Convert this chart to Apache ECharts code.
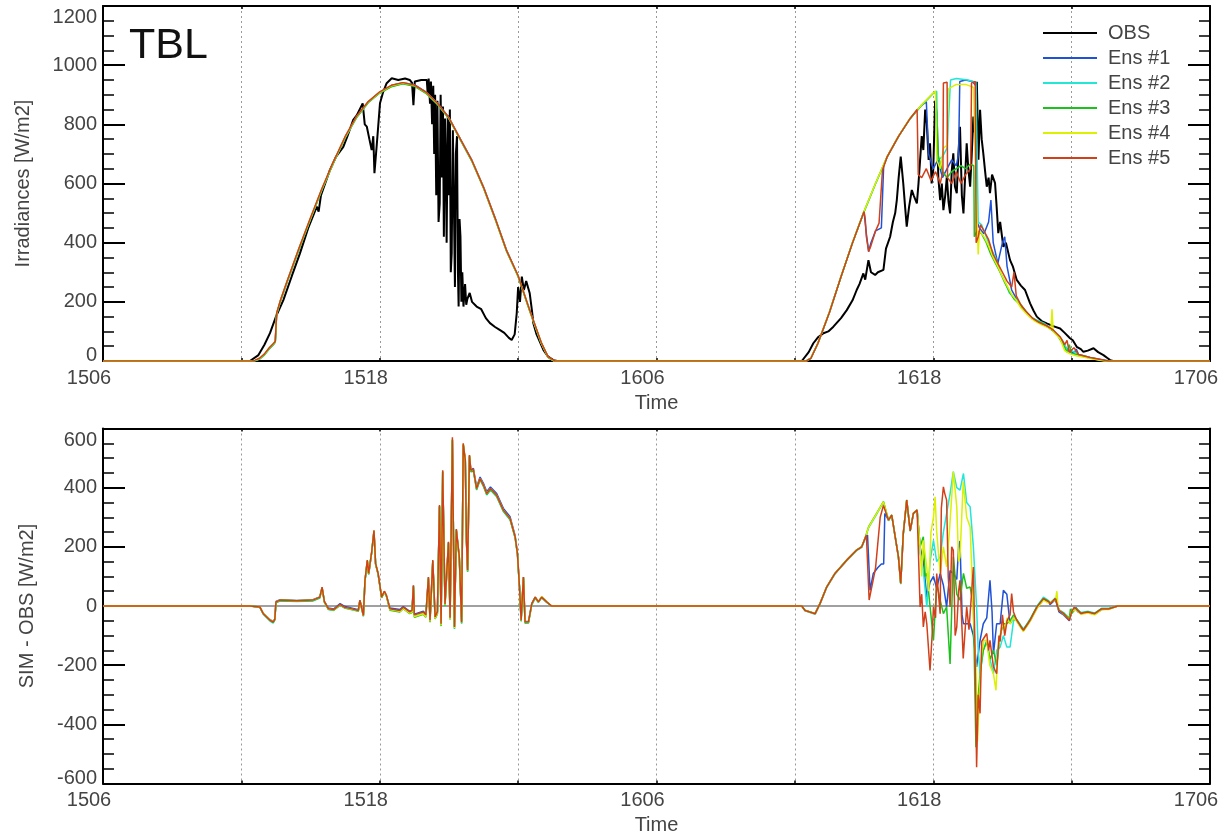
<!DOCTYPE html>
<html>
<head>
<meta charset="utf-8">
<script src="https://cdn.jsdelivr.net/npm/echarts@6/dist/echarts.min.js"></script>
<style>html,body{margin:0;padding:0;background:#fff}#c{width:1228px;height:834px}</style>
</head>
<body>
<div id="c"></div>
<script>
// x = hours since day 15, 06 h
const xTickLabels = {0:'1506', 12:'1518', 24:'1606', 36:'1618', 48:'1706'};
const seriesNames = ['OBS','Ens #1','Ens #2','Ens #3','Ens #4','Ens #5'];
const seriesColors = ['#000000','#1f52d6','#22e6d6','#1cc21c','#dcf000','#d2401a'];

const obsTop = [[0,0],[6.37,0],[6.74,20],[7.0,55],[7.24,94],[7.5,150],[7.82,206],[8.2,290],[8.54,364],[8.9,450],[9.27,522],[9.35,505],[9.45,560],[9.84,646],[10.1,690],[10.42,724],[10.6,760],[10.85,815],[11.0,830],[11.26,871],[11.35,800],[11.44,792],[11.55,750],[11.65,713],[11.72,760],[11.77,635],[11.87,730],[12.01,871],[12.15,910],[12.3,939],[12.52,956],[12.8,950],[13.1,955],[13.3,950],[13.4,940],[13.46,865],[13.52,945],[13.8,950],[14.04,950],[14.08,900],[14.12,955],[14.18,870],[14.22,945],[14.27,800],[14.32,930],[14.36,700],[14.4,900],[14.45,560],[14.5,880],[14.55,470],[14.6,533],[14.64,900],[14.69,620],[14.74,860],[14.78,420],[14.83,820],[14.87,650],[14.9,400],[14.95,830],[15.0,560],[15.04,850],[15.08,300],[15.12,364],[15.17,780],[15.22,500],[15.26,250],[15.3,700],[15.35,760],[15.39,300],[15.42,184],[15.46,480],[15.5,420],[15.54,200],[15.58,300],[15.63,184],[15.7,260],[15.75,190],[15.8,210],[15.9,230],[16.0,200],[16.2,184],[16.4,175],[16.6,145],[16.78,128],[17.0,115],[17.2,105],[17.4,95],[17.6,78],[17.72,71],[17.85,90],[17.94,162],[18.0,250],[18.08,200],[18.16,285],[18.25,240],[18.35,270],[18.5,230],[18.6,170],[18.66,128],[18.8,90],[19.1,37],[19.3,15],[19.53,3],[19.7,0],
[30.3,0],[30.37,3],[30.6,30],[30.8,60],[31.0,80],[31.24,94],[31.45,100],[31.67,116],[32.0,145],[32.25,172],[32.5,205],[32.68,240],[32.8,260],[32.97,296],[33.05,275],[33.19,341],[33.3,300],[33.48,291],[33.6,300],[33.84,308],[33.95,380],[34.13,420],[34.25,470],[34.35,500],[34.42,544],[34.5,620],[34.59,691],[34.7,600],[34.78,520],[34.85,454],[34.95,520],[35.07,578],[35.15,560],[35.29,533],[35.36,600],[35.43,680],[35.5,760],[35.57,713],[35.65,850],[35.72,803],[35.8,680],[35.86,736],[35.93,600],[36.0,646],[36.08,880],[36.15,837],[36.22,620],[36.3,544],[36.37,600],[36.44,510],[36.52,560],[36.59,623],[36.66,540],[36.73,499],[36.8,640],[36.87,702],[36.94,590],[37.02,567],[37.09,700],[37.16,792],[37.24,560],[37.31,499],[37.38,620],[37.45,736],[37.52,650],[37.6,589],[37.67,700],[37.74,826],[37.82,760],[37.89,944],[37.96,680],[38.03,849],[38.1,750],[38.17,702],[38.25,640],[38.32,589],[38.4,620],[38.46,567],[38.55,630],[38.68,601],[38.75,520],[38.82,432],[38.9,470],[39.04,386],[39.15,400],[39.33,341],[39.45,320],[39.62,274],[39.8,255],[39.98,240],[40.2,195],[40.35,170],[40.49,150],[40.7,135],[40.92,127],[41.2,118],[41.5,110],[41.7,95],[41.93,77],[42.05,70],[42.22,48],[42.4,40],[42.51,31],[42.7,35],[42.95,43],[43.15,30],[43.38,20],[43.55,10],[43.67,3],[43.8,0],[48,0]];

const ens1Top = [[0,0],[6.45,0],[6.6,2],[6.8,8],[7.0,22],[7.2,42],[7.4,58],[7.47,66],[7.53,160],[7.7,205],[8.0,272],[8.5,380],[9.0,482],[9.5,582],[10.0,672],[10.5,757],[11.0,826],[11.5,876],[12.0,909],[12.5,931],[13.0,941],[13.5,934],[14.0,910],[14.5,872],[15.0,823],[15.5,750],[16.0,678],[16.5,588],[17.0,484],[17.5,374],[18.0,288],[18.5,172],[19.0,62],[19.3,13],[19.55,0],
[30.5,0],[30.7,10],[31.0,60],[31.5,165],[32.0,285],[32.5,400],[33.0,505],[33.1,430],[33.2,370],[33.3,400],[33.5,440],[33.75,450],[33.85,660],[34.0,690],[34.5,760],[35.0,820],[35.5,865],[35.7,876],[35.8,700],[36.0,650],[36.2,680],[36.4,620],[36.6,650],[36.8,680],[37.0,660],[37.1,700],[37.15,945],[37.4,950],[37.7,945],[37.85,930],[37.9,470],[38.0,450],[38.2,430],[38.4,470],[38.5,544],[38.6,400],[38.8,330],[39.0,400],[39.1,420],[39.2,320],[39.4,240],[39.6,212],[39.8,185],[40.0,168],[40.3,142],[40.6,132],[40.9,118],[41.2,104],[41.5,78],[41.7,50],[41.9,32],[42.1,26],[42.2,40],[42.3,22],[42.8,12],[43.2,6],[43.6,0],[48,0]];

const ens2Top = [[0,0],[6.45,0],[6.6,1],[6.8,7],[7.0,20],[7.2,40],[7.4,56],[7.47,63],[7.53,158],[7.7,203],[8.0,270],[8.5,377],[9.0,480],[9.5,580],[10.0,670],[10.5,754],[11.0,823],[11.5,873],[12.0,906],[12.5,928],[13.0,938],[13.5,930],[14.0,906],[14.5,868],[15.0,819],[15.5,746],[16.0,674],[16.5,584],[17.0,480],[17.5,370],[18.0,285],[18.5,169],[19.0,60],[19.3,12],[19.55,0],
[30.5,0],[30.7,10],[31.0,60],[31.5,165],[32.0,285],[32.5,400],[33.0,505],[33.5,600],[34.0,690],[34.5,760],[35.0,820],[35.5,865],[36.0,905],[36.15,912],[36.2,680],[36.4,690],[36.6,720],[36.75,950],[37.0,955],[37.5,950],[37.85,942],[37.95,470],[38.1,460],[38.3,420],[38.5,380],[38.7,350],[38.9,300],[39.1,270],[39.3,230],[39.5,215],[39.7,200],[39.9,180],[40.2,150],[40.5,138],[40.8,128],[41.1,110],[41.4,88],[41.6,70],[41.8,40],[42.0,35],[42.3,22],[42.7,14],[43.1,6],[43.5,0],[48,0]];

const ens3Top = [[0,0],[6.45,0],[6.6,2],[6.8,8],[7.0,21],[7.2,41],[7.4,57],[7.47,64],[7.53,159],[7.7,204],[8.0,271],[8.5,378],[9.0,481],[9.5,581],[10.0,671],[10.5,755],[11.0,824],[11.5,874],[12.0,906],[12.5,927],[13.0,937],[13.5,929],[14.0,905],[14.5,868],[15.0,820],[15.5,747],[16.0,675],[16.5,585],[17.0,481],[17.5,371],[18.0,286],[18.5,170],[19.0,61],[19.3,12],[19.55,0],
[30.5,0],[30.7,10],[31.0,60],[31.5,165],[32.0,285],[32.5,400],[33.0,505],[33.5,600],[34.0,690],[34.5,760],[35.0,820],[35.5,865],[36.0,905],[36.1,912],[36.2,700],[36.4,640],[36.6,620],[36.8,640],[37.0,650],[37.2,660],[37.4,650],[37.6,665],[37.76,660],[37.78,420],[37.9,440],[38.1,430],[38.3,400],[38.5,360],[38.7,330],[38.9,300],[39.1,265],[39.3,235],[39.5,210],[39.7,195],[39.9,178],[40.2,150],[40.5,135],[40.8,125],[41.1,108],[41.4,85],[41.6,60],[41.8,30],[41.9,55],[42.0,25],[42.3,20],[42.7,12],[43.1,5],[43.5,0],[48,0]];

const ens4Top = [[0,0],[6.45,0],[6.6,2],[6.8,9],[7.0,23],[7.2,43],[7.4,59],[7.47,66],[7.53,161],[7.7,206],[8.0,273],[8.5,381],[9.0,483],[9.5,583],[10.0,673],[10.5,757],[11.0,826],[11.5,876],[12.0,908],[12.5,930],[13.0,940],[13.5,932],[14.0,908],[14.5,870],[15.0,821],[15.5,748],[16.0,676],[16.5,586],[17.0,482],[17.5,372],[18.0,287],[18.5,171],[19.0,62],[19.3,13],[19.55,0],
[30.5,0],[30.7,11],[31.0,61],[31.5,166],[32.0,286],[32.5,401],[33.0,506],[33.5,601],[34.0,691],[34.5,761],[35.0,821],[35.5,866],[36.0,906],[36.1,912],[36.15,680],[36.3,650],[36.45,720],[36.6,730],[36.65,920],[37.0,935],[37.4,935],[37.75,925],[37.85,600],[37.95,360],[38.0,440],[38.2,420],[38.4,390],[38.6,350],[38.8,320],[39.0,285],[39.2,255],[39.4,225],[39.6,205],[39.8,180],[40.1,155],[40.4,135],[40.7,122],[41.0,112],[41.1,105],[41.15,175],[41.2,100],[41.5,75],[41.7,35],[41.9,25],[42.2,18],[42.6,12],[43.0,6],[43.4,0],[48,0]];

const ens5Top = [[0,0],[6.45,0],[6.6,3],[6.8,10],[7.0,24],[7.2,44],[7.4,60],[7.47,67],[7.53,162],[7.7,207],[8.0,274],[8.5,382],[9.0,485],[9.5,585],[10.0,675],[10.5,759],[11.0,828],[11.5,877],[12.0,910],[12.5,932],[13.0,941],[13.5,933],[14.0,909],[14.5,871],[15.0,822],[15.5,749],[16.0,677],[16.5,587],[17.0,483],[17.5,373],[18.0,288],[18.5,172],[19.0,63],[19.3,14],[19.6,0],
[30.5,0],[30.7,10],[31.0,60],[31.5,165],[32.0,285],[32.5,400],[33.0,505],[33.05,480],[33.1,420],[33.2,370],[33.3,390],[33.5,440],[33.65,466],[33.8,646],[34.0,690],[34.5,760],[35.0,820],[35.3,850],[35.35,630],[35.5,620],[35.7,650],[35.9,610],[36.1,640],[36.3,600],[36.42,640],[36.44,940],[36.6,942],[36.62,620],[36.8,600],[37.0,640],[37.2,600],[37.4,630],[37.62,650],[37.66,940],[37.82,945],[37.86,400],[37.95,420],[38.05,460],[38.2,440],[38.4,410],[38.6,360],[38.8,330],[39.0,300],[39.2,270],[39.4,250],[39.5,300],[39.6,220],[39.8,190],[40.0,170],[40.3,145],[40.6,130],[40.9,120],[41.2,105],[41.5,82],[41.7,55],[41.8,70],[41.9,30],[42.1,45],[42.3,22],[42.8,12],[43.2,6],[43.6,0],[48,0]];

// SIM - OBS
const zeroLine = [[0,0],[48,0]];

const ens1Diff = [[0,0],[6.37,0],[6.8,-3],[6.95,-25],[7.24,-46],[7.38,-52],[7.45,-44],[7.5,15],[7.68,21],[8.4,19],[9.1,21],[9.4,31],[9.5,62],[9.6,16],[9.77,-7],[10.0,-10],[10.28,8],[10.5,-2],[10.71,-6],[11.07,-13],[11.14,20],[11.29,-30],[11.36,85],[11.46,152],[11.52,108],[11.58,142],[11.65,180],[11.75,252],[11.82,142],[11.93,108],[12.08,30],[12.2,49],[12.29,35],[12.44,-7],[12.87,-12],[13.02,-2],[13.3,-18],[13.4,-14],[13.46,68],[13.5,-28],[13.89,-18],[14.0,-28],[14.11,96],[14.18,-46],[14.3,152],[14.4,-35],[14.5,-18],[14.59,338],[14.66,-58],[14.73,455],[14.83,9],[14.98,215],[15.05,-38],[15.15,560],[15.24,-68],[15.32,258],[15.45,165],[15.55,-52],[15.62,545],[15.71,492],[15.76,222],[15.81,121],[15.89,508],[15.95,460],[16.06,465],[16.2,402],[16.35,436],[16.5,414],[16.64,386],[16.8,402],[17.07,380],[17.36,330],[17.65,302],[17.87,238],[17.97,180],[18.06,64],[18.13,-46],[18.23,98],[18.3,-52],[18.45,-52],[18.59,8],[18.74,30],[18.88,15],[19.02,30],[19.24,13],[19.45,0],
[30.3,0],[30.44,-15],[30.88,-26],[31.09,8],[31.38,64],[31.74,110],[32.25,155],[32.68,189],[32.9,200],[33.04,228],[33.15,240],[33.26,53],[33.4,110],[33.6,130],[33.75,142],[33.85,142],[33.9,313],[34.06,290],[34.2,307],[34.35,234],[34.49,166],[34.59,76],[34.7,244],[34.85,358],[35.0,254],[35.14,313],[35.3,324],[35.43,200],[35.57,150],[35.72,30],[35.86,80],[36.01,100],[36.15,60],[36.3,110],[36.44,70],[36.58,-3],[36.73,120],[36.87,110],[37.02,90],[37.1,200],[37.16,220],[37.25,-30],[37.31,-60],[37.45,-60],[37.6,-60],[37.74,-100],[37.88,-206],[38.03,-116],[38.17,-60],[38.32,-40],[38.46,87],[38.55,-20],[38.61,-162],[38.75,-60],[38.9,-60],[39.04,53],[39.11,53],[39.19,40],[39.33,-60],[39.48,-40],[39.62,-50],[39.8,-72],[39.91,-84],[40.1,-62],[40.2,-50],[40.5,-6],[40.78,22],[41.0,12],[41.07,5],[41.3,22],[41.45,-20],[41.65,-30],[41.9,-50],[42.0,-22],[42.2,-5],[42.25,-18],[42.4,-26],[42.7,-22],[43.0,-28],[43.3,-12],[43.6,-10],[44.0,0],[48,0]];

const ens2Diff = [[0,0],[6.37,0],[6.8,-5],[6.95,-28],[7.24,-51],[7.38,-58],[7.45,-48],[7.5,11],[7.68,17],[8.4,15],[9.1,17],[9.4,27],[9.5,60],[9.6,12],[9.77,-12],[10.0,-15],[10.28,2],[10.5,-8],[10.71,-11],[11.07,-18],[11.14,17],[11.29,-35],[11.36,84],[11.46,152],[11.52,107],[11.58,141],[11.65,180],[11.75,252],[11.82,141],[11.93,107],[12.08,27],[12.2,47],[12.29,33],[12.44,-12],[12.87,-18],[13.02,-7],[13.3,-24],[13.4,-20],[13.46,66],[13.5,-35],[13.89,-25],[14.0,-35],[14.11,93],[14.18,-53],[14.3,150],[14.4,-42],[14.5,-25],[14.59,336],[14.66,-66],[14.73,452],[14.83,2],[14.98,212],[15.05,-45],[15.15,560],[15.24,-78],[15.32,255],[15.45,160],[15.55,-60],[15.62,544],[15.71,487],[15.76,216],[15.81,115],[15.89,504],[15.95,453],[16.06,456],[16.2,392],[16.35,426],[16.5,403],[16.64,375],[16.8,392],[17.07,369],[17.36,319],[17.65,291],[17.87,230],[17.97,174],[18.06,60],[18.13,-52],[18.23,94],[18.3,-58],[18.45,-58],[18.59,3],[18.74,26],[18.88,12],[19.02,28],[19.24,12],[19.45,0],
[30.3,0],[30.44,-16],[30.88,-28],[31.09,6],[31.38,62],[31.74,108],[32.25,153],[32.68,187],[32.9,198],[33.04,226],[33.2,265],[33.55,311],[33.84,350],[34.06,288],[34.2,305],[34.35,232],[34.49,164],[34.59,74],[34.7,242],[34.85,356],[35.0,252],[35.14,311],[35.3,322],[35.43,180],[35.57,120],[35.72,-3],[35.86,150],[36.01,222],[36.15,150],[36.3,166],[36.44,250],[36.58,313],[36.73,380],[36.87,454],[37.02,400],[37.16,392],[37.31,448],[37.45,350],[37.6,335],[37.74,200],[37.88,-3],[37.95,-150],[38.03,-229],[38.17,-150],[38.32,-116],[38.46,-180],[38.61,-229],[38.75,-150],[38.9,-139],[39.04,-100],[39.19,-139],[39.33,-139],[39.48,-50],[39.62,-45],[39.8,-66],[39.91,-78],[40.1,-56],[40.2,-44],[40.5,0],[40.78,30],[41.0,18],[41.07,10],[41.3,28],[41.45,-12],[41.65,-22],[41.9,-44],[42.0,-16],[42.2,-8],[42.4,-22],[42.7,-18],[43.0,-24],[43.3,-8],[43.6,-8],[44.0,0],[48,0]];

const ens3Diff = [[0,0],[6.37,0],[6.8,-4],[6.95,-27],[7.24,-49],[7.38,-55],[7.45,-46],[7.5,12],[7.68,18],[8.4,16],[9.1,18],[9.4,28],[9.5,61],[9.6,13],[9.77,-11],[10.0,-14],[10.28,3],[10.5,-7],[10.71,-10],[11.07,-17],[11.14,18],[11.29,-34],[11.36,85],[11.46,153],[11.52,108],[11.58,142],[11.65,181],[11.75,253],[11.82,142],[11.93,108],[12.08,28],[12.2,47],[12.29,33],[12.44,-14],[12.87,-20],[13.02,-9],[13.3,-26],[13.4,-22],[13.46,65],[13.5,-38],[13.89,-28],[14.0,-38],[14.11,92],[14.18,-55],[14.3,150],[14.4,-44],[14.5,-27],[14.59,335],[14.66,-68],[14.73,453],[14.83,1],[14.98,212],[15.05,-46],[15.15,562],[15.24,-76],[15.32,255],[15.45,161],[15.55,-58],[15.62,546],[15.71,489],[15.76,218],[15.81,117],[15.89,506],[15.95,455],[16.06,458],[16.2,394],[16.35,428],[16.5,405],[16.64,377],[16.8,394],[17.07,371],[17.36,321],[17.65,293],[17.87,231],[17.97,175],[18.06,61],[18.13,-51],[18.23,95],[18.3,-57],[18.45,-56],[18.59,5],[18.74,28],[18.88,13],[19.02,29],[19.24,13],[19.45,0],
[30.3,0],[30.44,-14],[30.88,-25],[31.09,9],[31.38,65],[31.74,111],[32.25,156],[32.68,190],[32.9,201],[33.04,229],[33.2,268],[33.55,314],[33.84,353],[34.06,291],[34.2,308],[34.35,235],[34.49,167],[34.59,77],[34.7,245],[34.85,359],[35.0,255],[35.14,314],[35.3,325],[35.43,200],[35.57,234],[35.65,100],[35.72,110],[35.86,0],[36.01,-116],[36.15,75],[36.3,20],[36.44,-26],[36.58,-3],[36.73,-196],[36.87,166],[37.02,40],[37.16,20],[37.31,110],[37.45,60],[37.6,64],[37.74,0],[37.85,-477],[37.9,-350],[38.03,-229],[38.17,-150],[38.32,-120],[38.46,-180],[38.61,-150],[38.75,-200],[38.9,-100],[39.04,-60],[39.19,-60],[39.33,-50],[39.48,-30],[39.62,-46],[39.8,-68],[39.91,-80],[40.1,-58],[40.2,-46],[40.5,-2],[40.78,26],[41.0,16],[41.07,9],[41.3,26],[41.45,-14],[41.65,-24],[41.9,-42],[41.95,-10],[42.0,-25],[42.2,-8],[42.4,-24],[42.7,-20],[43.0,-25],[43.3,-9],[43.6,-9],[44.0,0],[48,0]];

const ens4Diff = [[0,0],[6.37,0],[6.8,-3],[6.95,-25],[7.24,-47],[7.38,-53],[7.45,-44],[7.5,14],[7.68,20],[8.4,18],[9.1,20],[9.4,30],[9.5,63],[9.6,14],[9.77,-10],[10.0,-13],[10.28,4],[10.5,-6],[10.71,-9],[11.07,-16],[11.14,19],[11.29,-33],[11.36,86],[11.46,154],[11.52,109],[11.58,143],[11.65,182],[11.75,255],[11.82,143],[11.93,109],[12.08,29],[12.2,49],[12.29,35],[12.44,-12],[12.87,-18],[13.02,-8],[13.3,-24],[13.4,-20],[13.46,67],[13.5,-36],[13.89,-26],[14.0,-36],[14.11,95],[14.18,-52],[14.3,152],[14.4,-42],[14.5,-24],[14.59,338],[14.66,-65],[14.73,456],[14.83,4],[14.98,214],[15.05,-44],[15.15,564],[15.24,-74],[15.32,258],[15.45,163],[15.55,-56],[15.62,548],[15.71,492],[15.76,220],[15.81,119],[15.89,509],[15.95,458],[16.06,462],[16.2,397],[16.35,431],[16.5,408],[16.64,380],[16.8,397],[17.07,374],[17.36,324],[17.65,296],[17.87,234],[17.97,178],[18.06,63],[18.13,-49],[18.23,97],[18.3,-55],[18.45,-55],[18.59,6],[18.74,30],[18.88,14],[19.02,32],[19.24,14],[19.45,0],
[30.3,0],[30.44,-15],[30.88,-26],[31.09,8],[31.38,64],[31.74,110],[32.25,155],[32.68,189],[32.9,200],[33.04,228],[33.2,267],[33.55,313],[33.84,352],[34.06,290],[34.2,307],[34.35,234],[34.49,166],[34.59,76],[34.7,244],[34.85,358],[35.0,254],[35.14,313],[35.3,324],[35.43,200],[35.5,100],[35.57,222],[35.72,130],[35.8,50],[35.9,250],[36.01,300],[36.08,369],[36.15,250],[36.3,110],[36.44,200],[36.58,132],[36.7,250],[36.87,454],[37.02,335],[37.1,150],[37.16,166],[37.3,420],[37.45,300],[37.6,267],[37.74,-26],[37.85,-200],[37.92,-458],[38.0,-300],[38.1,-162],[38.2,-116],[38.32,-116],[38.45,-200],[38.61,-229],[38.72,-285],[38.8,-150],[38.9,-100],[39.0,-60],[39.1,-80],[39.2,-40],[39.33,-60],[39.48,-40],[39.62,-52],[39.8,-74],[39.91,-86],[40.1,-64],[40.2,-52],[40.5,-8],[40.78,20],[41.0,10],[41.3,20],[41.36,50],[41.42,-10],[41.65,-28],[41.9,-46],[42.0,-18],[42.2,-12],[42.4,-28],[42.7,-24],[43.0,-30],[43.3,-12],[43.6,-12],[44.0,0],[48,0]];

const ens5Diff = [[0,0],[6.37,0],[6.8,-3],[6.95,-26],[7.24,-48],[7.38,-54],[7.45,-45],[7.5,14],[7.68,20],[8.4,18],[9.1,20],[9.4,30],[9.5,64],[9.6,15],[9.77,-9],[10.0,-12],[10.28,5],[10.5,-5],[10.71,-8],[11.07,-15],[11.14,20],[11.29,-32],[11.36,87],[11.46,155],[11.52,110],[11.58,144],[11.65,183],[11.75,256],[11.82,144],[11.93,110],[12.08,30],[12.2,50],[12.29,36],[12.44,-9],[12.87,-15],[13.02,-4],[13.3,-20],[13.4,-15],[13.46,70],[13.5,-30],[13.89,-20],[14.0,-30],[14.11,98],[14.18,-48],[14.3,155],[14.4,-37],[14.5,-20],[14.59,341],[14.66,-60],[14.73,459],[14.83,7],[14.98,217],[15.05,-40],[15.15,570],[15.24,-71],[15.32,260],[15.45,166],[15.55,-55],[15.62,550],[15.71,493],[15.76,222],[15.81,121],[15.89,510],[15.95,459],[16.06,462],[16.2,397],[16.35,431],[16.5,408],[16.64,380],[16.8,397],[17.07,374],[17.36,324],[17.65,296],[17.87,234],[17.97,178],[18.06,64],[18.13,-48],[18.23,98],[18.3,-54],[18.45,-54],[18.59,7],[18.74,30],[18.88,14],[19.02,30],[19.24,14],[19.45,0],
[30.3,0],[30.44,-15],[30.88,-26],[31.09,8],[31.38,64],[31.74,110],[32.25,155],[32.68,189],[32.9,200],[33.04,228],[33.1,240],[33.22,20],[33.4,90],[33.5,130],[33.7,300],[33.84,340],[34.06,290],[34.2,307],[34.35,234],[34.49,166],[34.59,76],[34.7,244],[34.85,358],[35.0,254],[35.14,313],[35.3,324],[35.43,-3],[35.5,40],[35.57,-71],[35.65,-20],[35.72,-60],[35.86,-218],[35.95,-100],[36.01,-3],[36.1,-40],[36.15,110],[36.3,-26],[36.35,330],[36.44,403],[36.5,380],[36.58,358],[36.65,100],[36.73,-3],[36.8,200],[36.87,188],[36.95,-100],[37.02,-71],[37.1,50],[37.16,87],[37.3,-177],[37.4,-60],[37.45,-3],[37.55,-80],[37.6,-82],[37.74,132],[37.8,-100],[37.88,-545],[37.95,-300],[38.03,-363],[38.1,-120],[38.17,-116],[38.32,-93],[38.4,-150],[38.46,-116],[38.61,-206],[38.75,-229],[38.85,-100],[38.9,-120],[39.0,-30],[39.1,-100],[39.2,-50],[39.33,-30],[39.4,42],[39.48,-20],[39.62,-48],[39.8,-70],[39.91,-82],[40.1,-60],[40.2,-48],[40.5,-3],[40.78,25],[41.0,15],[41.07,8],[41.3,25],[41.45,-15],[41.65,-26],[41.9,-48],[42.0,-20],[42.1,-5],[42.2,-10],[42.4,-25],[42.7,-20],[43.0,-26],[43.3,-10],[43.6,-10],[44.0,0],[48,0]];

const topData = [obsTop, ens1Top, ens2Top, ens3Top, ens4Top, ens5Top];
const diffData = [ens1Diff, ens2Diff, ens3Diff, ens4Diff, ens5Diff];

const FONT = '"Liberation Sans", Arial, sans-serif';
const labelColor = '#444';

function xAxisPair(gi) {
  return [{
    type: 'value', gridIndex: gi, min: 0, max: 48, interval: 6, position: 'bottom',
    name: 'Time', nameLocation: 'middle', nameGap: 32,
    nameTextStyle: {fontFamily: FONT, fontSize: 20, color: labelColor},
    axisLine: {show: true, onZero: false, lineStyle: {color: '#000', width: 2}},
    axisTick: {show: true, inside: true, length: 3, lineStyle: {color: '#000', width: 1.5}},
    axisLabel: {
      margin: 7, fontFamily: FONT, fontSize: 20, color: labelColor, padding: [0, 28, 0, 0],
      showMinLabel: true, showMaxLabel: true, hideOverlap: false,
      formatter: v => (xTickLabels[v] !== undefined ? xTickLabels[v] : '')
    },
    splitLine: {show: true, lineStyle: {color: '#999', type: [2, 3], width: 1}}
  }, {
    type: 'value', gridIndex: gi, min: 0, max: 48, interval: 6, position: 'top',
    axisLine: {show: true, onZero: false, lineStyle: {color: '#000', width: 2}},
    axisTick: {show: true, inside: true, length: 3, lineStyle: {color: '#000', width: 1.5}},
    axisLabel: {show: false}, splitLine: {show: false}
  }];
}

function yAxisPair(gi, min, max, name, nameGap, minPad, maxPad) {
  const common = {
    type: 'value', gridIndex: gi, min: min, max: max, interval: 200,
    axisLine: {show: true, onZero: false, lineStyle: {color: '#000', width: 2}},
    axisTick: {show: true, inside: true, length: 22, lineStyle: {color: '#000', width: 2}},
    minorTick: {show: true, splitNumber: 4, length: 11, lineStyle: {color: '#000', width: 1.5}},
    splitLine: {show: false}
  };
  return [Object.assign({}, common, {
    position: 'left', name: name, nameLocation: 'middle', nameGap: nameGap, nameRotate: 90,
    nameTextStyle: {fontFamily: FONT, fontSize: 20, color: labelColor},
    axisLabel: {
      margin: 6, fontFamily: FONT, fontSize: 20, color: labelColor,
      showMinLabel: true, showMaxLabel: true,
      formatter: v => (v === min ? '{mn|' + v + '}' : (v === max ? '{mx|' + v + '}' : String(v))),
      rich: {
        mn: {fontFamily: FONT, fontSize: 20, color: labelColor, padding: [0, 0, minPad, 0]},
        mx: {fontFamily: FONT, fontSize: 20, color: labelColor, padding: [maxPad, 0, 0, 0]}
      }
    }
  }), Object.assign({}, common, {position: 'right', axisLabel: {show: false}})];
}

const xAxes = [].concat(xAxisPair(0), xAxisPair(1));
const yAxes = [].concat(yAxisPair(0, 0, 1200, 'Irradiances [W/m2]', 70, 12, 22),
                        yAxisPair(1, -600, 600, 'SIM - OBS [W/m2]', 66, 10, 23));

const series = [];
topData.forEach((d, i) => {
  series.push({
    name: seriesNames[i], type: 'line', xAxisIndex: 0, yAxisIndex: 0, data: d,
    symbol: 'none', showSymbol: false, animation: false,
    lineStyle: {color: seriesColors[i], width: i === 0 ? 2 : 1.5},
    itemStyle: {color: seriesColors[i]}, z: 2 + i
  });
});
series.push({
  name: 'zero', type: 'line', xAxisIndex: 2, yAxisIndex: 2, data: zeroLine,
  symbol: 'none', animation: false, lineStyle: {color: '#808080', width: 1.5}, z: 1
});
diffData.forEach((d, i) => {
  series.push({
    name: seriesNames[i + 1], type: 'line', xAxisIndex: 2, yAxisIndex: 2, data: d,
    symbol: 'none', showSymbol: false, animation: false,
    lineStyle: {color: seriesColors[i + 1], width: 1.5},
    itemStyle: {color: seriesColors[i + 1]}, z: 3 + i
  });
});

const chart = echarts.init(document.getElementById('c'), null, {renderer: 'canvas'});
chart.setOption({
  animation: false,
  backgroundColor: '#fff',
  title: {text: 'TBL', left: 129, top: 25, padding: 0, textStyle: {fontFamily: FONT, fontSize: 43, fontWeight: 'normal', color: '#111'}},
  legend: {
    data: seriesNames.map((n, i) => ({name: n, icon: 'rect', itemStyle: {color: seriesColors[i]}})),
    orient: 'vertical', left: 1043, top: 23, padding: 0,
    itemWidth: 54, itemHeight: 2, itemGap: 5,
    textStyle: {fontFamily: FONT, fontSize: 20, color: labelColor, padding: [0, 0, 0, 6]},
    selectedMode: false
  },
  grid: [
    {left: 103, top: 6, width: 1107, height: 355, containLabel: false, outerBoundsMode: 'none'},
    {left: 103, top: 428.5, width: 1107, height: 355, containLabel: false, outerBoundsMode: 'none'}
  ],
  xAxis: xAxes,
  yAxis: yAxes,
  series: series
});
</script>
</body>
</html>
